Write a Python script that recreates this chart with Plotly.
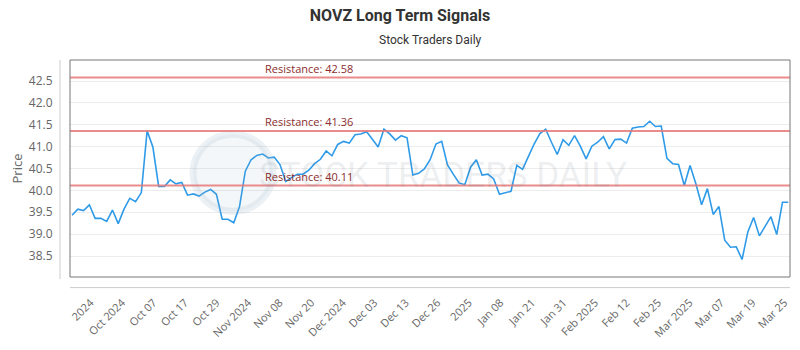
import plotly.graph_objects as go

# ---- data ----
prices = [
    39.43, 39.57, 39.54, 39.67, 39.36, 39.36, 39.29, 39.55, 39.24, 39.57,
    39.82, 39.74, 39.95, 41.36, 40.99, 40.09, 40.09, 40.24, 40.15, 40.18,
    39.89, 39.92, 39.87, 39.96, 40.02, 39.91, 39.34, 39.34, 39.26, 39.63,
    40.44, 40.70, 40.80,
    40.83, 40.74, 40.76, 40.59, 40.20, 40.29, 40.37, 40.37, 40.46, 40.61,
    40.71, 40.90, 40.79, 41.05, 41.12, 41.08, 41.27, 41.29, 41.34, 41.17,
    40.99, 41.40, 41.29, 41.15, 41.25, 41.20, 40.35, 40.39, 40.49, 40.70,
    41.06, 41.12,
    40.58, 40.37, 40.17, 40.13, 40.53, 40.70, 40.35, 40.37, 40.26, 39.91,
    39.95, 39.98, 40.57, 40.48, 40.77, 41.06, 41.30, 41.40, 41.10, 40.82,
    41.16, 41.03, 41.25, 41.01, 40.72, 41.01, 41.10, 41.23, 40.95, 41.16,
    41.17, 41.08, 41.42, 41.45,
    41.46, 41.58, 41.46, 41.47, 40.73, 40.61, 40.59, 40.11, 40.57, 40.15,
    39.67, 40.04, 39.45, 39.63, 38.86, 38.70, 38.71, 38.42, 39.05, 39.38,
    38.96, 39.19, 39.40, 38.99, 39.73, 39.73,
]
x_idx = list(range(len(prices)))

tick_labels = [
    "2024", "Oct 2024", "Oct 07", "Oct 17", "Oct 29", "Nov 2024", "Nov 08",
    "Nov 20", "Dec 2024", "Dec 03", "Dec 13", "Dec 26", "2025", "Jan 08",
    "Jan 21", "Jan 31", "Feb 2025", "Feb 12", "Feb 25", "Mar 2025", "Mar 07",
    "Mar 19", "Mar 25",
]

resistance_levels = [42.58, 41.36, 40.11]
resistance_labels = ["Resistance: 42.58", "Resistance: 41.36", "Resistance: 40.11"]

# ---- layout helpers ----
tick_first, tick_last = 3.2, 123.3
n_t = len(tick_labels)
tick_vals = [tick_first + i * (tick_last - tick_first) / (n_t - 1) for i in range(n_t)]

fig = go.Figure()

fig.add_trace(go.Scatter(
    x=x_idx, y=prices, mode="lines",
    line=dict(color="#2f9be8", width=1.6),
    hoverinfo="y", showlegend=False,
))

shapes = []
annotations = []

# watermark logo (faint circle) and text
shapes.append(dict(type="circle", xref="paper", yref="paper",
                   x0=(193 - 70) / 720, x1=(273 - 70) / 720,
                   y0=(285 - 217) / 225, y1=(285 - 137) / 225,
                   fillcolor="rgba(150,175,200,0.10)",
                   line=dict(color="rgba(150,175,200,0.18)", width=7)))
annotations.append(dict(text="STOCK TRADERS DAILY", xref="paper", yref="paper",
                        x=(443 - 70) / 720, y=(285 - 180) / 225,
                        showarrow=False,
                        font=dict(family="Roboto", size=35, color="rgba(120,130,140,0.14)")))

for lvl, lab in zip(resistance_levels, resistance_labels):
    shapes.append(dict(type="line", xref="paper", yref="y", x0=0, x1=1, y0=lvl, y1=lvl,
                       line=dict(color="rgba(230,120,120,0.85)", width=2)))
    annotations.append(dict(text=lab, xref="paper", yref="y",
                            x=(263 - 70) / 720, y=lvl, xanchor="left", yanchor="bottom",
                            yshift=0, showarrow=False,
                            font=dict(family="Open Sans", size=11, color="#8b2e2e")))

# frame around plot area
shapes.append(dict(type="rect", xref="paper", yref="paper", x0=0, x1=1, y0=0, y1=1,
                   line=dict(color="#777777", width=1), layer="above"))
# offset axis lines
shapes.append(dict(type="line", xref="paper", yref="paper",
                   x0=-10 / 720, x1=-10 / 720, y0=-2 / 225, y1=1,
                   line=dict(color="#cccccc", width=1)))
shapes.append(dict(type="line", xref="paper", yref="paper",
                   x0=0, x1=1, y0=-11 / 225, y1=-11 / 225,
                   line=dict(color="#cccccc", width=1)))

fig.update_layout(
    width=800, height=350,
    margin=dict(l=70, r=10, t=60, b=65),
    paper_bgcolor="white", plot_bgcolor="white",
    title=dict(text="<b>NOVZ Long Term Signals</b>", x=0.5, xanchor="center",
               y=1 - 15 / 350, yanchor="middle",
               font=dict(family="Roboto", size=16, color="#333333")),
    shapes=shapes,
    annotations=annotations + [dict(text="Stock Traders Daily", xref="paper", yref="paper",
                                    x=0.5, y=1 + 21 / 225, showarrow=False,
                                    xanchor="center", yanchor="middle",
                                    font=dict(family="Roboto", size=12, color="#333333"))],
    xaxis=dict(range=[-0.35, 124.3], tickmode="array", tickvals=tick_vals,
               ticktext=tick_labels, tickangle=-45, showgrid=False, zeroline=False,
               ticks="outside", ticklen=14, tickcolor="rgba(0,0,0,0)",
               tickfont=dict(family="Open Sans", size=11, color="#666666"),
               showline=False),
    yaxis=dict(range=[38.02, 42.98], tickmode="array",
               tickvals=[38.5, 39.0, 39.5, 40.0, 40.5, 41.0, 41.5, 42.0, 42.5],
               ticktext=["38.5", "39.0", "39.5", "40.0", "40.5", "41.0", "41.5", "42.0", "42.5"],
               showgrid=True, gridcolor="#ececec", zeroline=False,
               ticks="outside", ticklen=14, tickcolor="rgba(0,0,0,0)",
               tickfont=dict(family="Open Sans", size=12, color="#666666"),
               title=dict(text="Price", standoff=3,
                          font=dict(family="Open Sans", size=13, color="#666666")),
               showline=False),
)

fig.write_html("out.html")
